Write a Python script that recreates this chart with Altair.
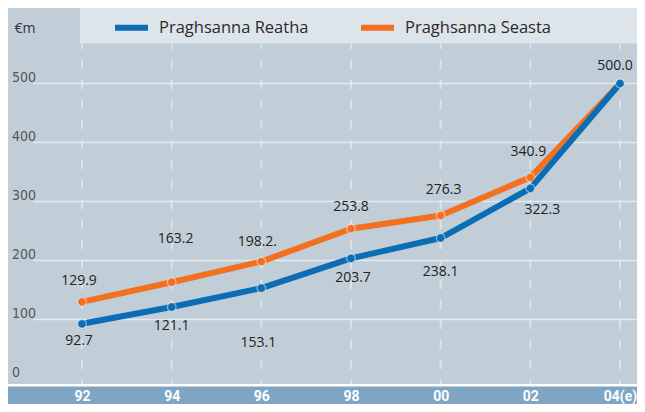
import altair as alt
import pandas as pd

# ---- data ----
YEARS = ["92", "94", "96", "98", "00", "02", "04(e)"]
SERIES = ["Praghsanna Reatha", "Praghsanna Seasta"]
REATHA = [92.7, 121.1, 153.1, 203.7, 238.1, 322.3, 500.0]
SEASTA = [129.9, 163.2, 198.2, 253.8, 276.3, 340.9, 500.0]
REATHA_LABELS = ["92.7", "121.1", "153.1", "203.7", "238.1", "322.3", ""]
SEASTA_LABELS = ["129.9", "163.2", "198.2.", "253.8", "276.3", "340.9", "500.0"]
Y_TICKS = [0, 100, 200, 300, 400, 500]
GRID_VALUES = [100, 200, 300, 400, 500]
UNIT = "€m"

# ---- styling (not data) ----
COLORS = ["#0a6db5", "#f37021"]
REATHA_OFFSETS = [(-3, 17), (0, 19), (-3, 55), (2, 20), (0, 34), (12, 22), (0, 0)]
SEASTA_OFFSETS = [(-3, -21), (4, -43), (-4, -20), (0, -22), (3, -25), (-2, -25), (-5, -18)]
W, H = 629, 396
PLOT_BG = "#c1ced8"
HEADER_BG = "#dde4ea"
BAND_BG = "#7ea5c3"
GRID_C = "#e4eaef"
FONT = "Open Sans"
NARROW = "Liberation Sans Narrow, DejaVu Sans Condensed, sans-serif"

rows = []
for s, vals, labs, offs in [(SERIES[0], REATHA, REATHA_LABELS, REATHA_OFFSETS),
                            (SERIES[1], SEASTA, SEASTA_LABELS, SEASTA_OFFSETS)]:
    for yr, v, lab, off in zip(YEARS, vals, labs, offs):
        rows.append({"year": yr, "series": s, "value": v, "label": lab, "off": off})
df = pd.DataFrame(rows)
data = df.drop(columns=["off"])

xscale = alt.Scale(type="point", domain=YEARS, range=[74, 612], padding=0)
yscale = alt.Scale(domain=[0, 500], range=[370.5, 75.5], nice=False, zero=False)

x_axis = alt.Axis(orient="bottom", title=None, labelAngle=0, domain=False, ticks=False,
                  tickSize=0, grid=False, labelColor="white", labelFont="Roboto",
                  labelFontWeight="bold", labelFontSize=14, labelPadding=-4,
                  labelBaseline="alphabetic", zindex=1)
y_axis = alt.Axis(values=Y_TICKS, title=UNIT, titleAngle=0, titleX=6, titleY=24,
                  titleAlign="left", titleBaseline="alphabetic", titleFont=FONT,
                  titleFontSize=14, titleFontWeight="normal", titleColor="#333333",
                  labelAlign="left", labelPadding=-3.5, labelBaseline="alphabetic",
                  labelOffset=-2, labelFont=NARROW, labelFontSize=14, labelColor="#555555",
                  domain=False, ticks=False, tickSize=0, grid=False, zindex=1)

legend = alt.Legend(title=None, orient="none", legendX=104, legendY=0, direction="horizontal",
                    symbolType="stroke", symbolSize=1089, symbolStrokeWidth=6,
                    labelFont=FONT, labelFontSize=16.5, labelColor="#2b2b2b", labelOffset=8,
                    columnPadding=40, padding=0, labelLimit=300)
color = alt.Color("series:N", scale=alt.Scale(domain=SERIES, range=COLORS), legend=legend)
fill = alt.Fill("series:N", scale=alt.Scale(domain=SERIES, range=COLORS), legend=None)

X = alt.X("year:N", scale=xscale, sort=YEARS, axis=x_axis)
Y = alt.Y("value:Q", scale=yscale, axis=y_axis)

one = alt.Data(values=[{}])

bg = alt.Chart(one).mark_rect(color=PLOT_BG).encode(
    x=alt.value(0), x2=alt.value(W), y=alt.value(0), y2=alt.value(376))
band = alt.Chart(one).mark_rect(color=BAND_BG).encode(
    x=alt.value(0), x2=alt.value(W), y=alt.value(378.5), y2=alt.value(H))
header = alt.Chart(one).mark_rect(color=HEADER_BG).encode(
    x=alt.value(72), x2=alt.value(W), y=alt.value(0), y2=alt.value(35.5))

vrules = alt.Chart(pd.DataFrame({"year": YEARS})).mark_rule(
    color="#dbe3ea", strokeWidth=2, strokeDash=[9, 11], strokeDashOffset=4).encode(
    x=X, y=alt.value(36), y2=alt.value(376))

grid = alt.Chart(pd.DataFrame({"value": GRID_VALUES})).mark_rule(
    color=GRID_C, strokeWidth=1.5).encode(
    y=Y, x=alt.value(25), x2=alt.value(W))

base = alt.Chart(data)


def series_layers(name):
    sub = base.transform_filter(alt.datum.series == name)
    line = sub.mark_line(strokeWidth=6, strokeJoin="round").encode(x=X, y=Y, color=color)
    pts = sub.mark_point(filled=True, size=75, stroke="white", strokeOpacity=0.45,
                         strokeWidth=1.3, opacity=1).encode(x=X, y=Y, fill=fill)
    return [line, pts]


labels = []
for _, r in df.iterrows():
    if not r["label"]:
        continue
    dx, dy = r["off"]
    row = pd.DataFrame([{"year": r["year"], "value": r["value"], "label": r["label"]}])
    labels.append(alt.Chart(row).mark_text(
        dx=dx, dy=dy, font=FONT, fontSize=14, color="#222222", baseline="middle",
        align="center").encode(x=X, y=Y, text="label:N"))

chart = alt.layer(
    bg, band, header, vrules, grid,
    *series_layers(SERIES[1]), *series_layers(SERIES[0]),
    *labels
).properties(
    width=W, height=H, autosize=alt.AutoSizeParams(type="none"), padding=0,
    background="white"
).configure_view(stroke=None)

chart.save("out.html", embed_options={"renderer": "svg", "actions": False})
